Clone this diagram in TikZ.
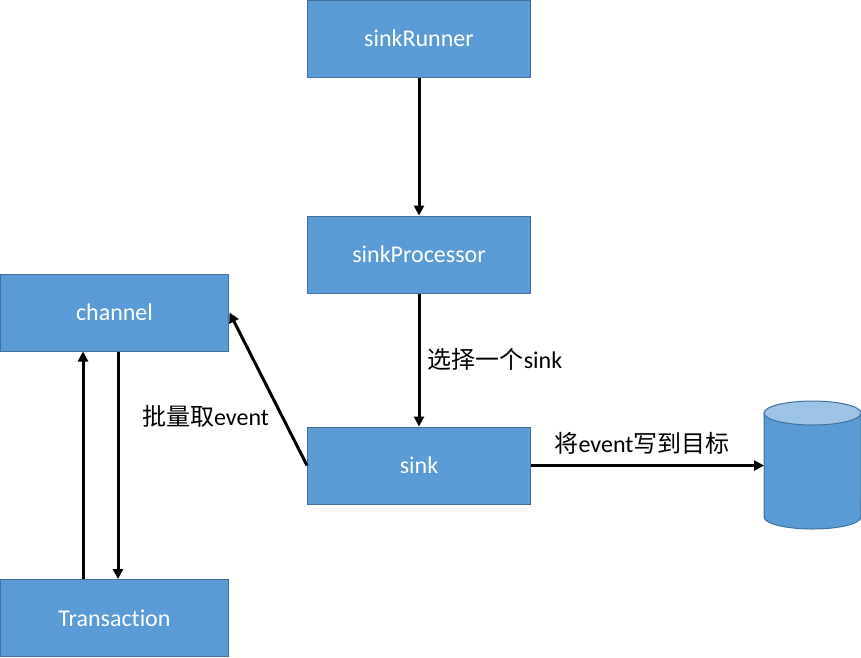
\documentclass[tikz,border=0pt]{standalone}
\usepackage{fontspec}
\setmainfont[Ligatures=NoCommon]{Carlito}
\newfontfamily\cjk{Noto Sans CJK SC}
\usetikzlibrary{arrows.meta}
\definecolor{boxblue}{HTML}{5B9BD5}
\definecolor{boxedge}{HTML}{41719C}
\definecolor{lidblue}{HTML}{9DC3E6}
\tikzset{
	stepbox/.style={draw=boxedge, line width=0.02cm, fill=boxblue, text=white, minimum width=4.46cm, minimum height=1.54cm, inner sep=0pt, font=\fontsize{13.66pt}{16pt}\selectfont},
	widebox/.style={stepbox, minimum width=4.58cm},
	flow/.style={line width=0.06cm, -{Triangle[length=0.2cm,width=0.2cm]}},
	note/.style={inner sep=0pt, text=black, font=\fontsize{13.66pt}{16pt}\selectfont}
}
\begin{document}
\begin{tikzpicture}[x=0.02cm, y=-0.02cm]
	%%%%% frame %%%%%
	\useasboundingbox (0, 0) rectangle (861, 657);
	
	\node[stepbox] (runner) at (419, 38.5) {sinkRunner};
	\node[stepbox] (processor) at (419, 254.5) {sinkProcessor};
	\node[stepbox] (sink) at (419, 465.5) {sink};
	\node[widebox] (channel) at (114.5, 312.5) {channel};
	\node[widebox] (transaction) at (114.5, 618) {Transaction};
	
	%%%%% drum %%%%%
	\coordinate (target) at (764, 465.5);
	\draw[boxedge, line width=0.02cm, fill=boxblue] (764, 413) -- (764, 517) arc (180:360:0.97cm and 0.24cm) -- (861, 413) -- cycle;
	\draw[boxedge, line width=0.02cm, fill=lidblue] (812.5, 413) circle [x radius=0.97cm, y radius=0.24cm];
	
	%%%%% arrows %%%%%
	\draw[flow] (runner) -- (processor);
	\draw[flow] (processor) -- (sink);
	\draw[flow] (sink.west) -- (channel.east);
	\draw[flow] (sink.east) -- (target);
	\draw[flow] ([xshift=-0.63cm]transaction.north) -- ([xshift=-0.63cm]channel.south);
	\draw[flow] ([xshift=0.07cm]channel.south) -- ([xshift=0.07cm]transaction.north);
	
	\node[note] (pick) at (495, 359) {{\cjk 选择一个}sink};
	\node[note] (batch) at (205.5, 416) {{\cjk 批量取}event};
	\node[note] (write) at (642, 443) {{\cjk 将}event{\cjk 写到目标}};
\end{tikzpicture}
\end{document}
